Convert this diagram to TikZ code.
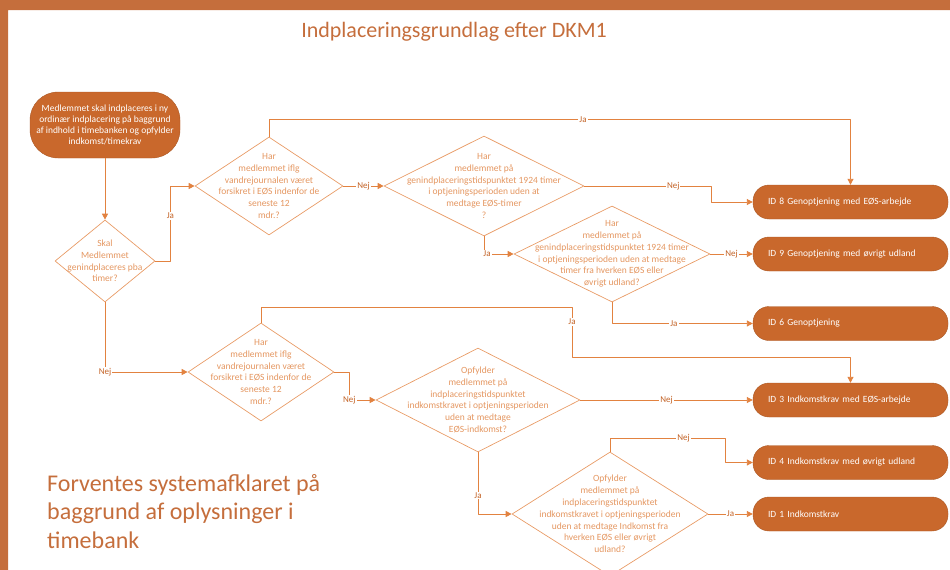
\documentclass[tikz,border=0pt]{standalone}
\usepackage{fontspec}
\setmainfont{Carlito}
\usetikzlibrary{shapes.geometric,arrows.meta}
\definecolor{ramme}{RGB}{197,110,60}
\definecolor{kasse}{RGB}{201,104,44}
\definecolor{streg}{RGB}{226,130,64}
\definecolor{tekst}{RGB}{228,150,96}
\definecolor{etiket}{RGB}{196,100,40}
\begin{document}
\begin{tikzpicture}[x=1pt,y=-1pt,>={Triangle[length=6pt,width=6pt]},line join=round,
	pil/.style={draw=streg,line width=.9pt,->},
	rombe/.style={diamond,draw=streg!80,line width=.7pt,inner sep=0pt},
	rtekst/.style={text=tekst,align=center,font=\fontsize{9.5}{11.8}\selectfont},
	resultat/.style={rectangle,rounded corners=16pt,fill=kasse,draw=kasse!85!black,line width=.4pt,text=white,minimum width=195pt,minimum height=34pt,text width=165pt,inner xsep=15pt,align=left,font=\fontsize{9.5}{11}\selectfont},
	lbl/.style={fill=white,inner sep=1pt,text=etiket,font=\fontsize{9}{10}\selectfont}]
	\useasboundingbox (0,0) rectangle (950,570);
	\fill[ramme] (0,0) rectangle (950,10) (0,0) rectangle (8,570);
	\node[text=ramme,font=\fontsize{22}{24}\selectfont] (titel) at (454,32) {Indplaceringsgrundlag efter DKM1};
	% start og spoergsmaal
	\node[rectangle,rounded corners=28pt,fill=kasse,draw=kasse!85!black,line width=.4pt,text=white,minimum width=150pt,minimum height=66pt,inner sep=0pt,align=center,font=\fontsize{9.5}{11}\selectfont] (start) at (105,125) {Medlemmet skal indplaceres i ny\\ordinær indplacering på baggrund\\af indhold i timebanken og opfylder\\indkomst/timekrav};
	\node[rombe,minimum width=100pt,minimum height=82pt] (d1) at (105,261) {};
	\node[rtekst] (d1t) at (d1) {Skal\\Medlemmet\\genindplaceres pba\\timer?};
	\node[rombe,minimum width=148pt,minimum height=98pt] (d2) at (269,186) {};
	\node[rtekst] (d2t) at (d2) {Har\\medlemmet iflg\\vandrejournalen været\\forsikret i EØS indenfor de\\seneste 12\\mdr.?};
	\node[rombe,minimum width=200pt,minimum height=100pt] (d3) at (484,186) {};
	\node[rtekst] (d3t) at (d3) {Har\\medlemmet på\\genindplaceringstidspunktet 1924 timer\\i optjeningsperioden uden at\\medtage EØS-timer\\?};
	\node[rombe,minimum width=196pt,minimum height=96pt] (d4) at (612,254) {};
	\node[rtekst] (d4t) at (d4) {Har\\medlemmet på\\genindplaceringstidspunktet 1924 timer\\i optjeningsperioden uden at medtage\\timer fra hverken EØS eller\\øvrigt udland?};
	\node[rombe,minimum width=146pt,minimum height=98pt] (d5) at (261,372) {};
	\node[rtekst] (d5t) at (d5) {Har\\medlemmet iflg\\vandrejournalen været\\forsikret i EØS indenfor de\\seneste 12\\mdr.?};
	\node[rombe,minimum width=204pt,minimum height=104pt] (d6) at (478,400) {};
	\node[rtekst] (d6t) at (d6) {Opfylder\\medlemmet på\\indplaceringstidspunktet\\indkomstkravet i optjeningsperioden\\uden at medtage\\EØS-indkomst?};
	\node[rombe,minimum width=196pt,minimum height=124pt] (d7) at (610,514) {};
	\node[rtekst] (d7t) at (d7) {Opfylder\\medlemmet på\\indplaceringstidspunktet\\indkomstkravet i optjeningsperioden\\uden at medtage Indkomst fra\\hverken EØS eller øvrigt\\udland?};
	% resultater
	\node[resultat] (id8) at (850.5,202) {ID 8 Genoptjening med EØS-arbejde};
	\node[resultat] (id9) at (850.5,254) {ID 9 Genoptjening med øvrigt udland};
	\node[resultat] (id6) at (850.5,323.5) {ID 6 Genoptjening};
	\node[resultat] (id3) at (850.5,400) {ID 3 Indkomstkrav med EØS-arbejde};
	\node[resultat] (id4) at (850.5,462.5) {ID 4 Indkomstkrav med øvrigt udland};
	\node[resultat] (id1) at (850.5,514) {ID 1 Indkomstkrav};
	\node[anchor=north west,inner sep=0pt,text=ramme,align=left,font=\fontsize{24}{28.5}\selectfont] (note) at (47,474) {Forventes systemafklaret på\\baggrund af oplysninger i\\timebank};
	% pile
	\draw[pil] (start.south) -- (d1.north);
	\draw[pil] (d1.east) -- ++(15,0) |- node[lbl,pos=.3]{Ja} (d2.west);
	\draw[pil] (d2.north) -- ++(0,-17) -| node[lbl,pos=.27]{Ja} (id8.north);
	\draw[pil] (d2.east) -- node[lbl]{Nej} (d3.west);
	\draw[pil] (d3.east) -- node[lbl,pos=.7]{Nej} ++(127,0) |- (id8.west);
	\draw[pil] (d3.south) |- node[lbl,pos=.55]{Ja} (d4.west);
	\draw[pil] (d4.east) -- node[lbl]{Nej} (id9.west);
	\draw[pil] (d4.south) |- node[lbl,pos=.72]{Ja} (id6.west);
	\draw[pil] (d1.south) |- node[lbl,pos=.5]{Nej} (d5.west);
	\draw[pil] (d5.north) |- (572,307) -- node[lbl,pos=.3]{Ja} (572,357) -| (id3.north);
	\draw[pil] (d5.east) -- ++(15,0) |- node[lbl,pos=.5]{Nej} (d6.west);
	\draw[pil] (d6.east) -- node[lbl]{Nej} (id3.west);
	\draw[pil] (d6.south) |- node[lbl,pos=.35]{Ja} (d7.west);
	\draw[pil] (d7.north) |- node[lbl,pos=.82]{Nej} (725,438) |- (id4.west);
	\draw[pil] (d7.east) -- node[lbl]{Ja} (id1.west);
\end{tikzpicture}
\end{document}
